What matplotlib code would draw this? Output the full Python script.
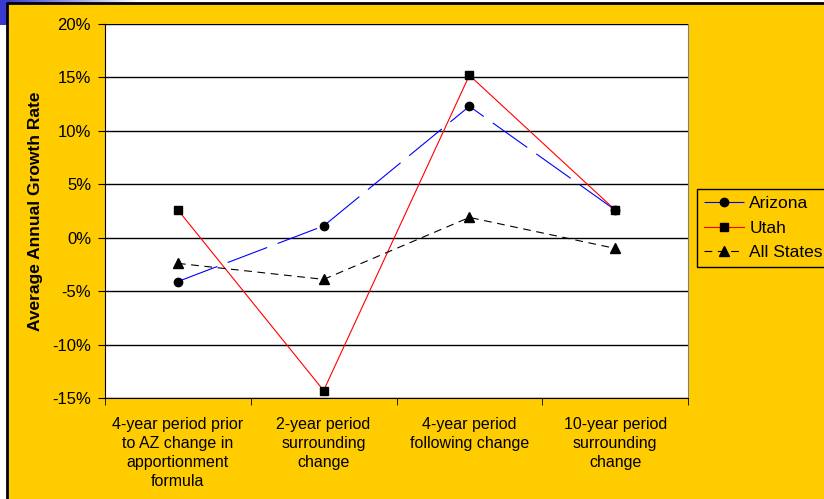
import matplotlib.pyplot as plt
import matplotlib.patches as mpatches
from matplotlib.ticker import FuncFormatter, FixedLocator
import numpy as np

plt.rcParams['font.family'] = ['Liberation Sans', 'DejaVu Sans']

# 数据
categories = [
    '4-year period prior\nto AZ change in\napportionment\nformula',
    '2-year period\nsurrounding\nchange',
    '4-year period\nfollowing change',
    '10-year period\nsurrounding\nchange',
]
arizona = [-4.1, 1.1, 12.3, 2.6]
utah = [2.6, -14.3, 15.2, 2.6]
all_states = [-2.4, -3.9, 1.9, -1.0]
y_ticks = [-15, -10, -5, 0, 5, 10, 15, 20]

W, H = 824, 499
fig = plt.figure(figsize=(W / 100, H / 100), dpi=100)
fig.patch.set_facecolor('white')

# 背景 (黄色面板 + 左上角蓝色条)
grad = np.linspace(0, 1, 100).reshape(1, -1)
ax_bg = fig.add_axes([0, 0, 1, 1], zorder=-5)
ax_bg.set_xlim(0, W)
ax_bg.set_ylim(H, 0)
ax_bg.axis('off')
ax_bg.imshow(grad, cmap=plt.matplotlib.colors.LinearSegmentedColormap.from_list(
    'bar', ['#3333cc', '#ffffff']), extent=(0, 140, 3, 0), aspect='auto')
ax_bg.add_patch(mpatches.Rectangle((0, 0), 7, 25, color='#3a3ad0', lw=0))
ax_bg.add_patch(mpatches.Rectangle((7, 3), W, H, facecolor='#FFCC00', lw=0))
ax_bg.plot([7.5, 7.5, W], [H, 3, 3], color='black', lw=2)

# 绘图区
left, right, top, bottom = 105, 688, 24, 398
ax = fig.add_axes([left / W, 1 - bottom / H, (right - left) / W, (bottom - top) / H])
ax.set_facecolor('white')

x = np.arange(len(categories))
ax.plot(x, arizona, color='#0000ff', lw=0.8, linestyle=(0, (38, 10)),
        marker='o', markersize=6, markerfacecolor='black', markeredgecolor='black',
        label='Arizona')
ax.plot(x, utah, color='#ff0000', lw=0.8, linestyle='-',
        marker='s', markersize=6, markerfacecolor='black', markeredgecolor='black',
        label='Utah')
ax.plot(x, all_states, color='black', lw=0.8, linestyle=(0, (7, 5)),
        marker='^', markersize=7, markerfacecolor='black', markeredgecolor='black',
        label='All States')

ax.set_xlim(-0.5, len(categories) - 0.5)
ax.set_ylim(-15, 20)
ax.set_yticks(y_ticks)
ax.yaxis.set_major_formatter(FuncFormatter(lambda v, p: f'{int(v)}%'))
ax.grid(True, axis='y', color='black', lw=1)
ax.set_axisbelow(True)

ax.set_xticks(x)
ax.set_xticklabels(categories, fontsize=11.5, linespacing=1.33)
ax.xaxis.set_minor_locator(FixedLocator(np.arange(-0.5, len(categories), 1.0)))
ax.tick_params(axis='x', which='major', length=0, pad=14)
ax.tick_params(axis='x', which='minor', length=5, direction='out', color='black')
ax.tick_params(axis='y', length=5, direction='out', labelsize=12, pad=5)

ax.spines['top'].set_visible(False)
ax.spines['right'].set_color('#808080')
ax.spines['left'].set_color('black')
ax.spines['bottom'].set_color('black')

ax.set_ylabel('Average Annual Growth Rate', fontsize=12.5, fontweight='bold', labelpad=7)

leg = fig.legend(loc='upper left', bbox_to_anchor=(697 / W, 1 - 189 / H),
                 borderaxespad=0, fontsize=12.5, frameon=True, fancybox=False,
                 framealpha=1, facecolor='#FFCC00', edgecolor='black',
                 handlelength=2.3, borderpad=0.42, labelspacing=0.52,
                 handletextpad=0.3)
leg.get_frame().set_linewidth(1)

plt.savefig('out.png', dpi=100)
plt.close(fig)
